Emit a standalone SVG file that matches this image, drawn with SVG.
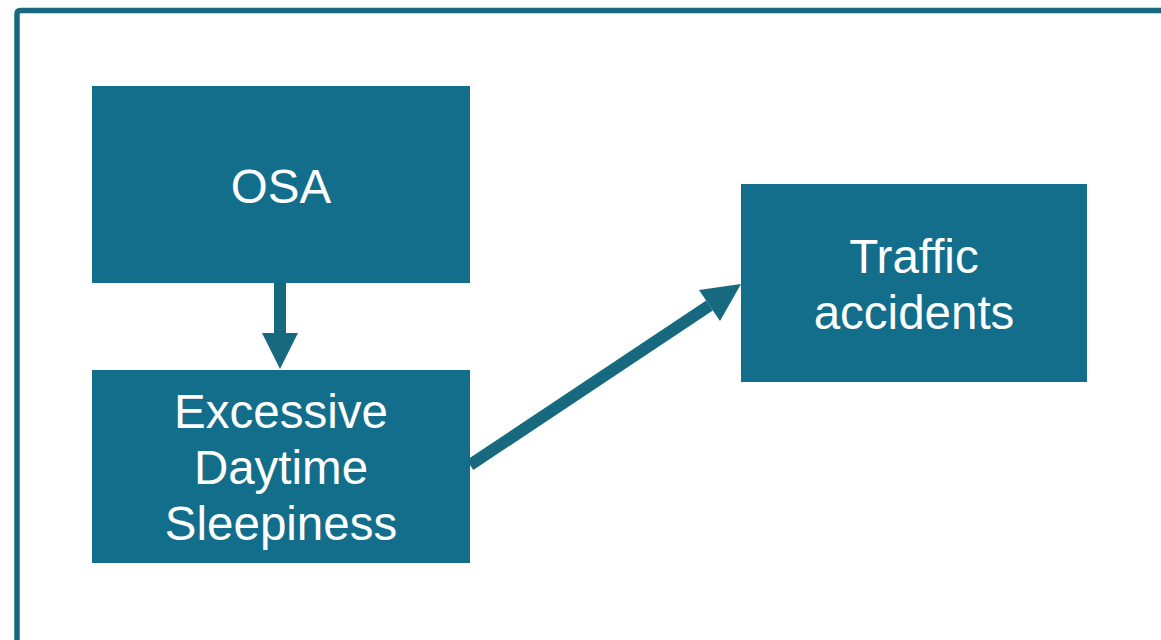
<svg xmlns="http://www.w3.org/2000/svg" width="1161" height="640" viewBox="0 0 1161 640">
<style>
.box{fill:#126E8A}
.lbl{font-family:"Liberation Sans",Arial,sans-serif;font-size:47.5px;fill:#ffffff;text-anchor:middle}
.conn{fill:#16697F}
.frame{fill:none;stroke:#16697F;stroke-width:5.5}
</style>
<rect width="1161" height="640" fill="#ffffff"/>
<path class="frame" d="M17,645 L17,14 Q17,10.5 20.5,10.5 L1170,10.5"/>
<g id="osa">
<rect class="box" x="92" y="86" width="378" height="197"/>
<text class="lbl" x="281" y="203">OSA</text>
</g>
<g id="eds">
<rect class="box" x="92" y="370" width="378" height="193"/>
<text class="lbl" x="281" y="428">Excessive</text>
<text class="lbl" x="281" y="484">Daytime</text>
<text class="lbl" x="281" y="540">Sleepiness</text>
</g>
<g id="traffic">
<rect class="box" x="741" y="184" width="346" height="198"/>
<text class="lbl" x="914" y="273">Traffic</text>
<text class="lbl" x="914" y="329">accidents</text>
</g>
<g id="connectors">
<rect class="conn" x="274" y="283" width="12" height="51"/>
<polygon class="conn" points="262,333 298,333 280,369"/>
<polygon class="conn" points="466.7,460 706.2,300.5 712.8,310.5 473.3,470"/>
<polygon class="conn" points="741,284 699,290 720,321"/>
</g>
</svg>
